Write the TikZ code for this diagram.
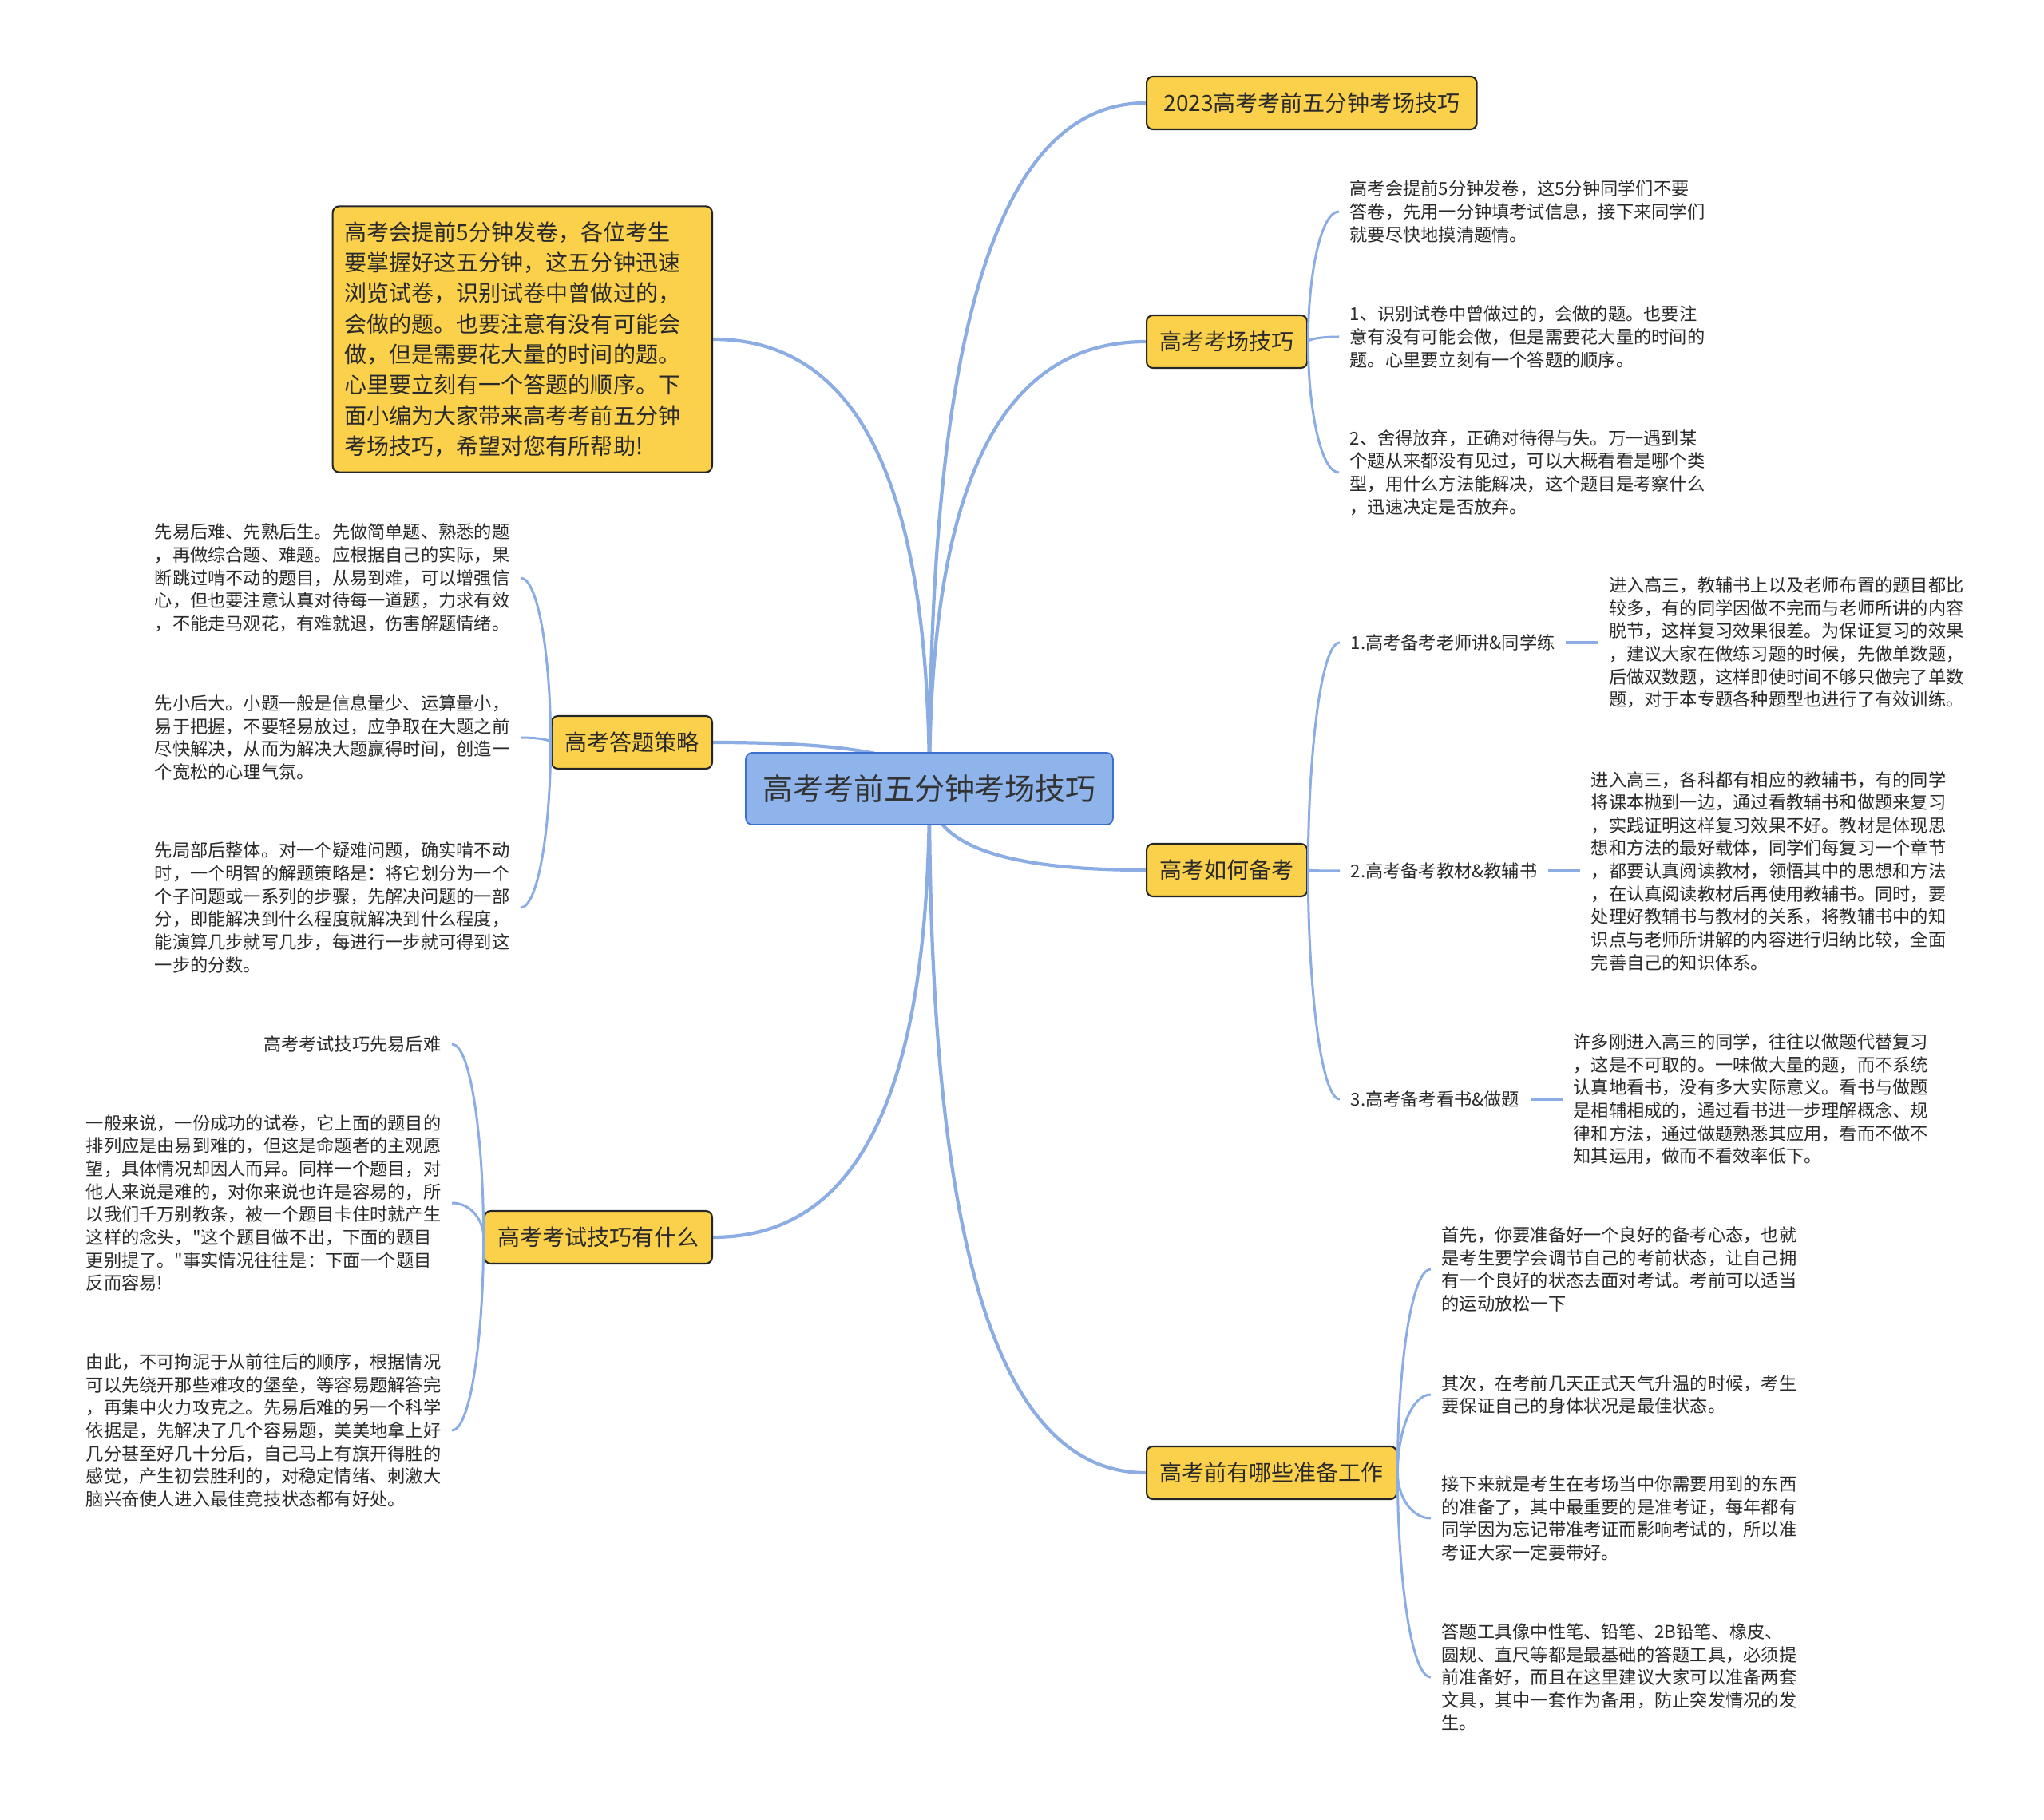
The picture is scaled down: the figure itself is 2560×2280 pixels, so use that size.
\documentclass[tikz,border=0pt]{standalone}
\usepackage{fontspec}
\setmainfont{Noto Sans CJK SC}[Ligatures=TeXOff]
\usepackage{xcolor}
\usetikzlibrary{positioning,calc,backgrounds}

\definecolor{topicfill}{HTML}{FBD14B}
\definecolor{rootfill}{HTML}{8FB4EC}
\definecolor{rootedge}{HTML}{3C6FCB}
\definecolor{branchline}{HTML}{8CADE4}
\definecolor{inktext}{HTML}{2A2A2A}

\tikzset{
  root/.style={draw=rootedge,line width=0.5pt,fill=rootfill,rounded corners=0.08cm,
    text=black!80,font=\fontsize{10.8pt}{13pt}\selectfont,inner xsep=0.21cm,minimum height=0.9cm},
  topic/.style={draw=black!85,line width=0.6pt,fill=topicfill,rounded corners=0.08cm,
    text=inktext,font=\fontsize{7.97pt}{10.9pt}\selectfont,inner xsep=0.165cm,minimum height=0.66cm},
  note/.style={align=left,text=inktext,font=\fontsize{6.32pt}{8.14pt}\selectfont,
    inner xsep=0.13cm,inner ysep=0pt},
  trunk/.style={draw=branchline,line width=1.2pt},
  twig/.style={draw=branchline,line width=0.85pt},
  mmcurve/.style 2 args={to path={.. controls ($(\tikztostart)!#1!(\tikztostart|-\tikztotarget)$)
    and ($(\tikztotarget)!#2!(\tikztostart|-\tikztotarget)$) .. (\tikztotarget)}},
}

\begin{document}
\begin{tikzpicture}[x=0.01cm,y=-0.01cm]
  \useasboundingbox (0,0) rectangle (2560,2280);
  % --- centre and main topics
  \node[root] (ctr) at (1164,988) {高考考前五分钟考场技巧};
  \node[topic,anchor=west,inner xsep=0.215cm] (n2023) at (1435,129) {2023高考考前五分钟考场技巧};
  \node[topic,anchor=west] (nskill) at (1435,428) {高考考场技巧};
  \node[topic,anchor=west] (nprep) at (1435,1090) {高考如何备考};
  \node[topic,anchor=west] (nready) at (1435,1845) {高考前有哪些准备工作};
  \node[topic,anchor=east,align=left,text width=4.45cm,inner xsep=0.15cm,minimum height=3.33cm]
    (nintro) at (893,425) {高考会提前5分钟发卷，各位考生\\要掌握好这五分钟，这五分钟迅速\\浏览试卷，识别试卷中曾做过的，\\会做的题。也要注意有没有可能会\\做，但是需要花大量的时间的题。\\心里要立刻有一个答题的顺序。下\\面小编为大家带来高考考前五分钟\\考场技巧，希望对您有所帮助!};
  \node[topic,anchor=east] (nstrat) at (893,930) {高考答题策略};
  \node[topic,anchor=east] (ntips) at (893,1550) {高考考试技巧有什么};

  % --- right: exam-room tips
  \node[note,anchor=west] (s1) at (1677,265) {高考会提前5分钟发卷，这5分钟同学们不要\\答卷，先用一分钟填考试信息，接下来同学们\\就要尽快地摸清题情。};
  \node[note,anchor=west] (s2) at (1677,422) {1、识别试卷中曾做过的，会做的题。也要注\\意有没有可能会做，但是需要花大量的时间的\\题。心里要立刻有一个答题的顺序。};
  \node[note,anchor=west] (s3) at (1677,592) {2、舍得放弃，正确对待得与失。万一遇到某\\个题从来都没有见过，可以大概看看是哪个类\\型，用什么方法能解决，这个题目是考察什么\\，迅速决定是否放弃。};

  % --- right: how to prepare
  \node[note,anchor=west,inner ysep=2pt] (p1) at (1678,805) {1.高考备考老师讲\&同学练};
  \node[note,right=0.4cm of p1] (q1) {进入高三，教辅书上以及老师布置的题目都比\\较多，有的同学因做不完而与老师所讲的内容\\脱节，这样复习效果很差。为保证复习的效果\\，建议大家在做练习题的时候，先做单数题，\\后做双数题，这样即使时间不够只做完了单数\\题，对于本专题各种题型也进行了有效训练。};
  \node[note,anchor=west,inner ysep=2pt] (p2) at (1678,1091) {2.高考备考教材\&教辅书};
  \node[note,right=0.4cm of p2] (q2) {进入高三，各科都有相应的教辅书，有的同学\\将课本抛到一边，通过看教辅书和做题来复习\\，实践证明这样复习效果不好。教材是体现思\\想和方法的最好载体，同学们每复习一个章节\\，都要认真阅读教材，领悟其中的思想和方法\\，在认真阅读教材后再使用教辅书。同时，要\\处理好教辅书与教材的关系，将教辅书中的知\\识点与老师所讲解的内容进行归纳比较，全面\\完善自己的知识体系。};
  \node[note,anchor=west,inner ysep=2pt] (p3) at (1678,1377) {3.高考备考看书\&做题};
  \node[note,right=0.4cm of p3] (q3) {许多刚进入高三的同学，往往以做题代替复习\\，这是不可取的。一味做大量的题，而不系统\\认真地看书，没有多大实际意义。看书与做题\\是相辅相成的，通过看书进一步理解概念、规\\律和方法，通过做题熟悉其应用，看而不做不\\知其运用，做而不看效率低下。};

  % --- right: getting ready
  \node[note,anchor=west] (r1) at (1792,1590) {首先，你要准备好一个良好的备考心态，也就\\是考生要学会调节自己的考前状态，让自己拥\\有一个良好的状态去面对考试。考前可以适当\\的运动放松一下};
  \node[note,anchor=west] (r2) at (1792,1747) {其次，在考前几天正式天气升温的时候，考生\\要保证自己的身体状况是最佳状态。};
  \node[note,anchor=west] (r3) at (1792,1902) {接下来就是考生在考场当中你需要用到的东西\\的准备了，其中最重要的是准考证，每年都有\\同学因为忘记带准考证而影响考试的，所以准\\考证大家一定要带好。};
  \node[note,anchor=west] (r4) at (1792,2101) {答题工具像中性笔、铅笔、2B铅笔、橡皮、\\圆规、直尺等都是最基础的答题工具，必须提\\前准备好，而且在这里建议大家可以准备两套\\文具，其中一套作为备用，防止突发情况的发\\生。};

  % --- left: answering strategy
  \node[note,anchor=east] (a1) at (652,724) {先易后难、先熟后生。先做简单题、熟悉的题\\，再做综合题、难题。应根据自己的实际，果\\断跳过啃不动的题目，从易到难，可以增强信\\心，但也要注意认真对待每一道题，力求有效\\，不能走马观花，有难就退，伤害解题情绪。};
  \node[note,anchor=east] (a2) at (652,924) {先小后大。小题一般是信息量少、运算量小，\\易于把握，不要轻易放过，应争取在大题之前\\尽快解决，从而为解决大题赢得时间，创造一\\个宽松的心理气氛。};
  \node[note,anchor=east] (a3) at (652,1137) {先局部后整体。对一个疑难问题，确实啃不动\\时，一个明智的解题策略是：将它划分为一个\\个子问题或一系列的步骤，先解决问题的一部\\分，即能解决到什么程度就解决到什么程度，\\能演算几步就写几步，每进行一步就可得到这\\一步的分数。};

  % --- left: exam tips
  \node[note,anchor=east] (k1) at (566,1308) {高考考试技巧先易后难};
  \node[note,anchor=east] (k2) at (566,1507) {一般来说，一份成功的试卷，它上面的题目的\\排列应是由易到难的，但这是命题者的主观愿\\望，具体情况却因人而异。同样一个题目，对\\他人来说是难的，对你来说也许是容易的，所\\以我们千万别教条，被一个题目卡住时就产生\\这样的念头，"这个题目做不出，下面的题目\\更别提了。"事实情况往往是：下面一个题目\\反而容易!};
  \node[note,anchor=east] (k3) at (566,1792) {由此，不可拘泥于从前往后的顺序，根据情况\\可以先绕开那些难攻的堡垒，等容易题解答完\\，再集中火力攻克之。先易后难的另一个科学\\依据是，先解决了几个容易题，美美地拿上好\\几分甚至好几十分后，自己马上有旗开得胜的\\感觉，产生初尝胜利的，对稳定情绪、刺激大\\脑兴奋使人进入最佳竞技状态都有好处。};

  % --- connectors
  \begin{scope}[on background layer]
    \fill[white] (0,0) rectangle (2560,2280);
    \foreach \kid in {n2023,nskill,nprep,nready}
      \draw[trunk] (ctr.center) to[mmcurve={0.6}{0.75}] (\kid.west);
    \foreach \kid in {nintro,nstrat,ntips}
      \draw[trunk] (ctr.center) to[mmcurve={0.6}{0.75}] (\kid.east);
  \end{scope}
  \foreach \kid in {s1,s2,s3}
    \draw[twig] (nskill.east) to[mmcurve={0.5}{0.6}] (\kid.west);
  \foreach \kid in {p1,p2,p3}
    \draw[twig] (nprep.east) to[mmcurve={0.5}{0.6}] (\kid.west);
  \foreach \kid/\txt in {p1/q1,p2/q2,p3/q3}
    \draw[twig,line width=1.1pt] (\kid.east) -- (\txt.west);
  \foreach \kid in {r1,r2,r3,r4}
    \draw[twig] (nready.east) to[mmcurve={0.5}{0.6}] (\kid.west);
  \foreach \kid in {a1,a2,a3}
    \draw[twig] (nstrat.west) to[mmcurve={0.5}{0.6}] (\kid.east);
  \foreach \kid in {k1,k2,k3}
    \draw[twig] (ntips.west) to[mmcurve={0.5}{0.6}] (\kid.east);
\end{tikzpicture}
\end{document}
